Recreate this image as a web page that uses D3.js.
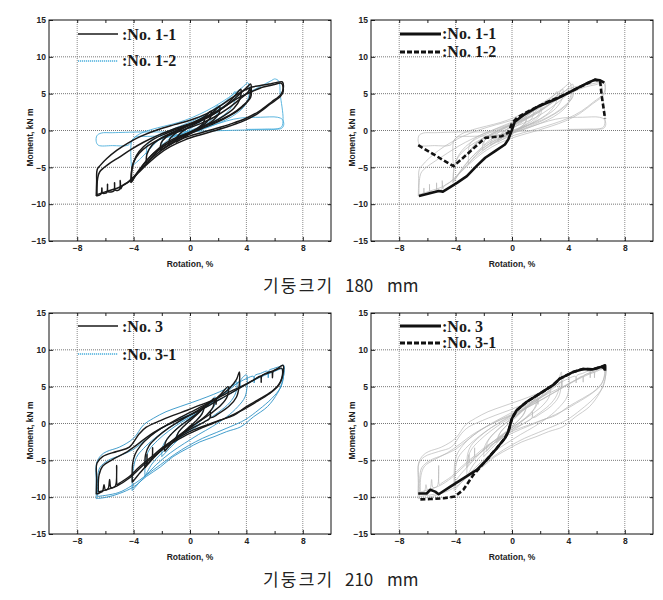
<!DOCTYPE html>
<html><head><meta charset="utf-8">
<script src="https://cdn.jsdelivr.net/npm/d3@7"></script>
<style>
body{margin:0;background:#fff;}
svg{display:block;}
</style></head><body>
<svg id="c" width="663" height="600"></svg>
<script>
// ---------- axis / text data ----------
const ROT_TICKS = [-8, -4, 0, 4, 8];
const ROT_MINOR = [-6, -2, 2, 6];
const MOM_TICKS = [-15, -10, -5, 0, 5, 10, 15];
const X_LABEL = "Rotation, %";
const Y_LABEL = "Moment, kN m";
const CAPTION_WORDS_1 = ["기둥크기", "180", "mm"];
const CAPTION_WORDS_2 = ["기둥크기", "210", "mm"];
const LEGEND_TOP = [":No. 1-1", ":No. 1-2"];
const LEGEND_BOTTOM = [":No. 3", ":No. 3-1"];

// ---------- No. 1-1 hysteresis loops [rotation %, moment kN m] ----------
const no11Loops = [
  [[-1.0,-1.6],[-0.95,-1.0],[-0.7,-0.4],[-0.3,0.2],[0.2,0.7],[0.6,1.1],[1.0,1.6],[0.95,1.0],[0.6,0.4],[0.1,-0.3],[-0.4,-0.9],[-1.0,-1.6]],
  [[-1.5,-2.0],[-1.45,-1.2],[-1.1,-0.5],[-0.6,0.2],[0,0.8],[0.6,1.4],[1.1,2.0],[1.5,2.6],[1.45,1.8],[1.1,1.0],[0.5,0.2],[-0.1,-0.4],[-0.7,-1.0],[-1.1,-1.5],[-1.5,-2.0]],
  [[-2.1,-2.7],[-2.05,-1.7],[-1.7,-0.9],[-1.1,-0.2],[-0.4,0.5],[0.4,1.1],[1.2,1.9],[1.7,2.6],[2.1,3.3],[2.05,2.3],[1.6,1.3],[0.9,0.5],[0.1,-0.3],[-0.7,-1.0],[-1.4,-1.8],[-2.1,-2.7]],
  [[-3.1,-4.6],[-3.05,-3.2],[-2.7,-2.0],[-2.1,-1.1],[-1.3,-0.3],[-0.4,0.4],[0.5,1.1],[1.4,1.9],[2.2,2.9],[2.8,3.9],[3.3,5.0],[3.6,5.6],[3.55,4.3],[3.1,3.0],[2.4,2.0],[1.6,1.1],[0.7,0.4],[-0.2,-0.4],[-1.1,-1.2],[-1.9,-2.2],[-2.6,-3.4],[-3.1,-4.6]],
  [[-4.15,-7.0],[-4.1,-5.0],[-3.8,-3.4],[-3.3,-2.2],[-2.6,-1.2],[-1.7,-0.4],[-0.8,0.3],[0.1,0.9],[1.0,1.6],[1.9,2.5],[2.8,3.7],[3.5,4.9],[4.0,5.8],[4.3,6.3],[4.35,5.5],[4.3,4.5],[3.7,3.3],[3.0,2.3],[2.1,1.4],[1.2,0.7],[0.2,-0.1],[-0.8,-0.8],[-1.8,-1.8],[-2.7,-3.3],[-3.4,-4.9],[-3.8,-6.0],[-4.15,-7.0]],
  [[-4.2,-7.1],[-4.15,-5.6],[-4.0,-4.3],[-3.6,-3.1],[-3.0,-2.1],[-2.2,-1.2],[-1.3,-0.5],[-0.3,0.2],[0.7,0.9],[1.7,1.8],[2.7,3.0],[3.5,4.2],[4.1,5.2],[4.25,5.7],[4.2,4.3],[3.6,3.0],[2.8,2.0],[1.9,1.1],[0.9,0.3],[-0.1,-0.5],[-1.1,-1.3],[-2.1,-2.4],[-3.0,-3.9],[-3.7,-5.6],[-4.2,-7.1]],
  [[-6.65,-8.9],[-6.62,-7.0],[-6.58,-5.3],[-6.35,-4.7],[-5.9,-3.8],[-5.2,-2.7],[-4.4,-1.7],[-3.5,-0.8],[-2.3,0.1],[-1.1,0.8],[0,1.4],[1.2,2.3],[2.2,3.4],[3.1,4.6],[4.0,5.6],[4.4,5.9],[5.0,6.1],[5.6,6.3],[6.1,6.5],[6.55,6.6],[6.62,5.8],[6.45,4.9],[5.8,3.9],[4.9,2.6],[3.9,1.6],[2.9,0.9],[1.9,0.3],[0.8,-0.3],[-0.4,-1.0],[-1.4,-1.9],[-2.1,-2.8],[-2.8,-3.9],[-3.5,-5.3],[-4.0,-6.3],[-4.4,-7.0],[-4.8,-7.5],[-4.9,-7.9],[-4.95,-6.8],[-5.0,-8.0],[-5.3,-8.1],[-5.35,-7.1],[-5.4,-8.2],[-5.8,-8.3],[-5.85,-7.3],[-5.9,-8.4],[-6.2,-8.5],[-6.25,-7.8],[-6.3,-8.6],[-6.65,-8.9]],
  [[-6.6,-8.7],[-6.55,-6.5],[-6.4,-5.6],[-5.8,-4.6],[-5.0,-3.6],[-4.2,-2.6],[-3.3,-1.6],[-2.2,-0.6],[-1.0,0.3],[0.2,1.1],[1.3,2.0],[2.4,3.2],[3.4,4.4],[4.4,5.3],[5.2,5.9],[5.9,6.2],[6.5,6.4],[6.6,5.2],[6.4,4.6],[5.7,3.6],[4.8,2.3],[3.8,1.3],[2.8,0.6],[1.8,0.0],[0.7,-0.6],[-0.4,-1.3],[-1.4,-2.2],[-2.2,-3.2],[-3.0,-4.5],[-3.7,-5.8],[-4.3,-6.9],[-5.0,-7.7],[-5.8,-8.2],[-6.6,-8.7]]
];

// ---------- No. 1-2 hysteresis loops ----------
const no12Loops = [
  [[-1.0,-1.3],[-0.85,-0.6],[-0.45,0.1],[0.1,0.7],[0.6,1.3],[1.0,1.9],[0.95,1.1],[0.55,0.4],[0.0,-0.2],[-0.5,-0.8],[-1.0,-1.3]],
  [[-2.0,-2.0],[-1.9,-1.1],[-1.4,-0.4],[-0.7,0.3],[0,0.9],[0.8,1.7],[1.5,2.6],[2.0,3.4],[1.95,2.4],[1.5,1.4],[0.8,0.6],[0,0],[-0.8,-0.6],[-1.5,-1.2],[-2.0,-2.0]],
  [[-3.1,-3.3],[-3.0,-1.9],[-2.5,-0.9],[-1.7,-0.2],[-0.7,0.6],[0.3,1.4],[1.3,2.4],[2.2,3.5],[2.9,4.6],[3.2,5.3],[3.15,3.9],[2.7,2.6],[2.0,1.6],[1.1,0.7],[0.1,0.0],[-0.9,-0.6],[-1.9,-1.0],[-2.6,-1.9],[-3.1,-3.3]],
  [[-4.15,-4.9],[-4.2,-3.0],[-4.1,-1.3],[-3.6,-0.5],[-2.8,0.1],[-1.8,0.6],[-0.8,1.1],[0.2,1.8],[1.2,2.7],[2.2,3.8],[3.2,5.1],[3.8,6.0],[4.1,6.5],[4.2,5.2],[3.9,3.4],[3.3,2.3],[2.5,1.4],[1.5,0.6],[0.5,-0.1],[-0.5,-0.6],[-1.5,-0.9],[-2.2,-1.3],[-2.9,-2.6],[-3.5,-3.8],[-4.15,-4.9]],
  [[-0.6,-0.6],[0.3,0.6],[1.3,1.9],[2.3,3.2],[3.3,4.3],[4.3,5.3],[5.2,6.2],[5.8,6.8],[6.0,7.0],[6.3,6.7],[6.4,4.9],[6.6,1.6],[6.5,0.5],[6.1,0.2],[4.5,0.1],[2.5,0.0],[0.5,-0.1],[-1.5,-0.2],[-3.5,-0.2],[-5.5,-0.3],[-6.3,-0.35],[-6.6,-0.7],[-6.65,-1.5],[-6.5,-2.0],[-5.5,-2.05],[-4.4,-2.0],[-4.15,-1.5],[-3.9,-0.9],[-3.0,-0.8],[-1.5,-0.7],[0.0,-0.3],[1.3,0.5],[2.6,1.3],[3.6,1.7],[5.0,1.8],[6.2,1.8],[6.55,1.5],[6.65,0.8],[6.5,0.3],[5.5,0.2],[4.0,0.15]]
];

// ---------- envelopes (skeleton curves), 180 mm ----------
const no11Envelope = [[-6.6,-8.9],[-5.9,-8.55],[-5.2,-8.2],[-4.9,-8.3],[-3.9,-7.1],[-3.2,-6.2],[-2.5,-4.8],[-1.9,-3.7],[-1.2,-2.8],[-0.5,-1.9],[-0.26,-1.2],[0,0.1],[0.2,1.2],[0.9,2.2],[1.9,3.3],[3.05,4.2],[4.2,5.3],[5.4,6.5],[5.9,6.9],[6.25,6.8],[6.55,6.5]];
const no12Envelope = [[-6.65,-2.0],[-4.15,-4.85],[-3.2,-3.25],[-1.9,-1.0],[-0.73,-0.77],[-0.26,-0.3],[0,1.0],[0.4,1.8],[1.15,2.6],[2.35,3.75],[3.5,4.65],[4.7,5.8],[5.9,6.9],[6.25,6.7],[6.35,4.9],[6.6,1.6]];

// ---------- No. 3 hysteresis loops ----------
const no3Loops = [
  [[-1.0,-2.2],[-0.85,-1.3],[-0.4,-0.3],[0.2,0.7],[0.7,1.6],[1.0,2.2],[0.85,1.3],[0.4,0.3],[-0.2,-0.7],[-0.6,-1.5],[-1.0,-2.2]],
  [[-1.8,-3.8],[-1.75,-2.6],[-1.4,-1.6],[-0.8,-0.5],[-0.1,0.5],[0.6,1.5],[1.3,2.6],[1.7,3.4],[1.65,2.3],[1.2,1.2],[0.5,0.1],[-0.3,-1.0],[-1.1,-2.3],[-1.8,-3.8]],
  [[-3.2,-6.0],[-3.15,-4.2],[-2.9,-3.0],[-2.3,-1.8],[-1.5,-0.6],[-0.6,0.5],[0.4,1.6],[1.4,2.8],[1.8,3.1],[1.85,2.6],[1.9,3.4],[2.2,4.0],[2.7,5.0],[2.65,3.7],[2.2,2.5],[1.5,1.4],[0.5,0.1],[-0.5,-1.2],[-1.5,-2.7],[-2.4,-4.3],[-3.2,-6.0]],
  [[-4.1,-8.0],[-4.07,-5.5],[-3.9,-4.2],[-3.5,-3.0],[-2.8,-1.7],[-2.0,-0.6],[-1.0,0.5],[0,1.5],[1.0,2.5],[2.0,3.6],[2.8,4.8],[3.3,6.0],[3.5,7.0],[3.48,5.0],[3.3,3.6],[2.8,2.4],[2.0,1.3],[1.5,0.8],[1.45,1.6],[1.4,0.7],[1.0,0.2],[0,-0.8],[-1.0,-2.0],[-2.0,-3.5],[-2.6,-4.5],[-2.65,-3.3],[-2.7,-4.7],[-3.0,-5.4],[-3.05,-4.2],[-3.1,-5.6],[-3.6,-6.8],[-4.1,-8.0]],
  [[-6.5,-9.3],[-6.45,-7.0],[-6.2,-5.8],[-5.5,-4.9],[-4.6,-4.0],[-3.7,-2.8],[-2.8,-1.5],[-1.8,-0.4],[-0.8,0.5],[0.3,1.4],[1.4,2.5],[2.5,3.7],[3.6,4.9],[4.6,6.0],[5.5,6.9],[6.0,7.2],[6.5,7.5],[6.55,6.5],[6.3,5.2],[5.6,4.0],[4.6,2.8],[3.6,1.7],[2.6,0.8],[1.6,0.0],[0.6,-0.8],[-0.4,-1.7],[-1.4,-2.8],[-2.4,-4.2],[-3.4,-5.8],[-4.3,-7.4],[-5.2,-8.5],[-6.5,-9.3]],
  [[-6.65,-9.6],[-6.62,-7.5],[-6.6,-5.4],[-6.2,-4.5],[-5.2,-3.8],[-4.3,-3.2],[-3.6,-1.4],[-3.1,-0.5],[-2.1,0.4],[-1.2,1.1],[-0.2,1.8],[0.7,2.5],[1.7,3.2],[2.6,4.1],[3.6,5.0],[4.5,5.9],[5.0,6.4],[5.05,5.6],[5.1,6.5],[5.5,6.8],[5.8,7.0],[5.85,6.2],[5.9,7.1],[6.2,7.45],[6.6,7.9],[6.62,7.0],[6.4,5.6],[5.9,4.5],[5.0,3.4],[4.0,2.3],[3.1,1.1],[2.1,0.45],[1.2,-0.2],[0.2,-0.9],[-0.7,-1.8],[-1.7,-2.9],[-2.6,-4.3],[-3.6,-5.9],[-4.3,-7.2],[-5.0,-8.1],[-5.15,-8.3],[-5.2,-5.7],[-5.3,-8.5],[-5.6,-8.7],[-5.7,-7.6],[-5.8,-8.8],[-6.0,-9.0],[-6.1,-8.3],[-6.2,-9.2],[-6.4,-9.4],[-6.65,-9.6]]
];

// ---------- No. 3-1 hysteresis loops ----------
const no31Loops = [
  [[-1.1,-2.6],[-0.95,-1.6],[-0.5,-0.5],[0.1,0.6],[0.6,1.5],[1.0,2.3],[0.85,1.4],[0.4,0.3],[-0.2,-0.8],[-0.7,-1.7],[-1.1,-2.6]],
  [[-2.0,-4.5],[-1.95,-3.2],[-1.6,-2.0],[-1.0,-0.8],[-0.3,0.3],[0.5,1.4],[1.2,2.5],[1.8,3.6],[1.75,2.5],[1.3,1.3],[0.6,0.1],[-0.2,-1.1],[-1.0,-2.5],[-2.0,-4.5]],
  [[-3.2,-7.2],[-3.15,-5.0],[-2.9,-3.6],[-2.3,-2.3],[-1.5,-1.0],[-0.6,0.2],[0.4,1.3],[1.4,2.6],[2.3,3.9],[3.0,5.1],[3.3,5.7],[3.25,4.2],[2.8,2.8],[2.0,1.5],[1.0,0.2],[0,-1.0],[-1.0,-2.3],[-2.0,-4.0],[-2.7,-5.5],[-3.2,-7.2]],
  [[-4.1,-9.1],[-4.05,-6.5],[-3.8,-4.6],[-3.3,-3.4],[-2.5,-2.0],[-1.5,-0.6],[-0.5,0.5],[0.5,1.6],[1.5,2.8],[2.5,4.1],[3.3,5.4],[3.5,5.7],[3.55,4.9],[3.6,5.9],[4.0,6.6],[4.05,5.2],[3.9,3.6],[3.4,2.3],[2.6,0.9],[1.6,-0.4],[0.6,-1.5],[-0.4,-2.7],[-1.4,-4.0],[-2.4,-5.6],[-3.3,-7.4],[-4.1,-9.1]],
  [[-6.55,-9.9],[-6.55,-7.5],[-6.4,-6.0],[-5.8,-5.0],[-4.9,-4.3],[-4.0,-3.5],[-3.2,-2.3],[-2.3,-1.0],[-1.3,0.1],[-0.3,1.0],[0.8,1.9],[1.9,3.0],[3.0,4.2],[4.0,5.3],[5.0,6.3],[5.9,7.0],[6.6,7.4],[6.6,6.0],[6.4,4.8],[5.8,3.4],[4.9,1.9],[3.9,0.5],[2.9,-0.4],[1.9,-1.2],[0.9,-2.0],[-0.1,-3.0],[-1.1,-4.2],[-2.1,-5.6],[-3.1,-7.0],[-4.1,-8.4],[-5.1,-9.4],[-6.55,-9.9]],
  [[-6.65,-10.2],[-6.65,-8.0],[-6.63,-5.4],[-6.3,-4.3],[-5.9,-3.8],[-5.0,-3.2],[-4.0,-2.0],[-3.3,-0.2],[-2.6,0.7],[-1.7,1.6],[-0.7,2.3],[0.2,2.9],[1.2,3.6],[2.1,4.3],[3.1,5.2],[4.0,6.1],[4.5,6.4],[4.55,5.5],[4.6,6.5],[5.0,6.8],[5.5,7.1],[5.55,6.2],[5.6,7.2],[5.9,7.45],[6.3,7.7],[6.65,7.9],[6.65,6.6],[6.5,5.4],[6.2,4.1],[5.5,2.3],[4.5,0.9],[3.6,-0.45],[2.6,-1.1],[1.7,-1.8],[0.7,-2.5],[-0.2,-3.4],[-1.2,-4.5],[-2.1,-5.9],[-3.1,-7.2],[-4.0,-8.6],[-5.0,-9.5],[-5.9,-10.0],[-6.65,-10.2]]
];

// ---------- envelopes, 210 mm ----------
const no3Envelope = [[-6.65,-9.5],[-6.05,-9.5],[-5.8,-9.0],[-5.45,-9.25],[-5.2,-9.6],[-4.4,-8.6],[-3.45,-7.45],[-2.5,-6.3],[-1.8,-4.95],[-1.1,-3.4],[-0.5,-2.0],[-0.26,-1.1],[0,0.7],[0.33,1.8],[1.05,2.95],[2.0,4.1],[2.9,5.2],[3.4,6.1],[4.35,7.0],[5.05,7.4],[5.75,7.35],[6.35,7.7],[6.6,7.9],[6.6,7.15]];
const no31Envelope = [[-6.5,-10.3],[-5.8,-10.25],[-4.85,-10.15],[-4.05,-9.9],[-3.45,-9.0],[-2.75,-7.0],[-1.8,-4.95],[-1.3,-3.8],[-1.1,-3.4],[-0.5,-2.0],[-0.26,-1.1],[0,0.7],[0.33,1.8],[1.05,2.95],[2.0,4.1],[2.9,5.2],[3.4,6.1],[4.35,7.0],[5.05,7.4],[5.75,7.35],[6.35,7.7],[6.55,7.5],[6.6,7.0]];

// ---------- drawing ----------
const svg = d3.select('#c');
const W = 282, H = 221;
const x = d3.scaleLinear().domain([-10, 10]).range([0, W]);
const y = d3.scaleLinear().domain([-15, 15]).range([H, 0]);
const smooth = d3.line().x(d => x(d[0])).y(d => y(d[1])).curve(d3.curveCatmullRom.alpha(0.5));
const straight = d3.line().x(d => x(d[0])).y(d => y(d[1]));
const TICK_FONT = '"Liberation Sans", Arial, sans-serif';
const BLACK = '#1a1a1a';

function frame(ox, oy, id) {
  const g = svg.append('g').attr('transform', `translate(${ox},${oy})`);
  svg.append('clipPath').attr('id', id).append('rect').attr('x', ox).attr('y', oy).attr('width', W).attr('height', H);
  g.append('g').selectAll('line').data(ROT_TICKS).join('line')
    .attr('x1', d => x(d)).attr('x2', d => x(d)).attr('y1', 0).attr('y2', H)
    .attr('stroke', '#8c8c8c').attr('stroke-width', 1).attr('stroke-dasharray', '1,1');
  g.append('g').selectAll('line').data(MOM_TICKS.filter(d => Math.abs(d) < 15)).join('line')
    .attr('y1', d => y(d)).attr('y2', d => y(d)).attr('x1', 0).attr('x2', W)
    .attr('stroke', '#777').attr('stroke-width', 1).attr('stroke-dasharray', '1,1');
  const style = sel => {
    sel.select('.domain').remove();
    sel.selectAll('.tick line').attr('stroke', '#222');
    sel.selectAll('text').attr('font-family', TICK_FONT).attr('font-size', '8.5px')
      .attr('font-weight', 'bold').attr('fill', '#222');
  };
  g.append('g').attr('transform', `translate(0,${H})`)
    .call(d3.axisBottom(x).tickValues(ROT_TICKS).tickSizeInner(-4).tickSizeOuter(0).tickPadding(3.5)).call(style);
  g.append('g').attr('transform', `translate(0,${H})`)
    .call(d3.axisBottom(x).tickValues(ROT_MINOR).tickSizeInner(-3).tickSizeOuter(0).tickFormat('')).call(style);
  g.append('g')
    .call(d3.axisTop(x).tickValues(ROT_TICKS.concat(ROT_MINOR)).tickSizeInner(-3).tickSizeOuter(0).tickFormat('')).call(style);
  g.append('g')
    .call(d3.axisLeft(y).tickValues(MOM_TICKS).tickSizeInner(-4).tickSizeOuter(0).tickPadding(3)).call(style);
  g.append('g').attr('transform', `translate(${W},0)`)
    .call(d3.axisRight(y).tickValues(MOM_TICKS).tickSizeInner(-3).tickSizeOuter(0).tickFormat('')).call(style);
  g.append('rect').attr('width', W).attr('height', H).attr('fill', 'none').attr('stroke', '#111').attr('stroke-width', 1);
  g.append('text').attr('x', W / 2).attr('y', H + 26).attr('text-anchor', 'middle')
    .attr('font-family', TICK_FONT).attr('font-size', '8.5px').attr('font-weight', 'bold').attr('fill', '#222').text(X_LABEL);
  g.append('text').attr('transform', `translate(-16.5,${H / 2 + 7}) rotate(-90)`).attr('text-anchor', 'middle')
    .attr('font-family', TICK_FONT).attr('font-size', '8.5px').attr('font-weight', 'bold').attr('fill', '#222').text(Y_LABEL);
  const plot = svg.append('g').attr('clip-path', `url(#${id})`)
    .append('g').attr('transform', `translate(${ox},${oy})`);
  const top = g.append('g');
  return { plot, top };
}

function loops(plot, data, color, width, dash) {
  plot.append('g').selectAll('path').data(data).join('path')
    .attr('d', smooth).attr('fill', 'none').attr('stroke', color)
    .attr('stroke-width', width).attr('stroke-linejoin', 'round')
    .attr('stroke-dasharray', dash || null);
}
function envelope(plot, data, dash) {
  plot.append('path').datum(data).attr('d', straight).attr('fill', 'none').attr('stroke', '#111')
    .attr('stroke-width', 2.6).attr('stroke-linejoin', 'round').attr('stroke-dasharray', dash || null);
}
function legend(g, labels, yLines, yTexts, styles, xText) {
  styles.forEach((s, i) => {
    g.append('line').attr('x1', 29).attr('x2', s.x2).attr('y1', yLines[i]).attr('y2', yLines[i])
      .attr('stroke', s.color).attr('stroke-width', s.width).attr('stroke-dasharray', s.dash || null);
    g.append('text').attr('x', xText).attr('y', yTexts[i])
      .attr('font-family', '"Liberation Serif", "Times New Roman", serif').attr('font-weight', 'bold')
      .attr('font-size', '16px').attr('fill', '#1a1a1a').text(labels[i]);
  });
}

const GRAY = '#b8b8b8';
const CYAN_A = '#4aaedb';
const BLUE_C = '#2f93c6';

const A = frame(49, 20, 'clipA');
loops(A.plot, no12Loops, CYAN_A, 0.9);
loops(A.plot, no11Loops, BLACK, 1.5);
legend(A.top, LEGEND_TOP, [14, 41], [19.5, 45.7],
  [{ color: BLACK, width: 1.4, x2: 69 }, { color: CYAN_A, width: 1.3, dash: '1.2,0.8', x2: 69 }], 73);

const B = frame(371, 20, 'clipB');
loops(B.plot, no11Loops, GRAY, 0.7);
loops(B.plot, no12Loops, GRAY, 0.7);
envelope(B.plot, no11Envelope);
envelope(B.plot, no12Envelope, '5,2.5');
legend(B.top, LEGEND_TOP, [14, 32], [19.3, 37.3],
  [{ color: '#111', width: 3, x2: 70 }, { color: '#111', width: 3, dash: '5,2', x2: 70 }], 71);

const C = frame(49, 313, 'clipC');
loops(C.plot, no31Loops, BLUE_C, 0.9);
loops(C.plot, no3Loops, BLACK, 1.4);
legend(C.top, LEGEND_BOTTOM, [13, 41], [19.3, 47],
  [{ color: BLACK, width: 1.4, x2: 69 }, { color: CYAN_A, width: 1.3, dash: '1.2,0.8', x2: 69 }], 73);

const D = frame(371, 313, 'clipD');
loops(D.plot, no3Loops, GRAY, 0.7);
loops(D.plot, no31Loops, GRAY, 0.7);
envelope(D.plot, no31Envelope, '5,2.5');
envelope(D.plot, no3Envelope);
legend(D.top, LEGEND_BOTTOM, [13, 30], [19, 35.3],
  [{ color: '#111', width: 3, x2: 70 }, { color: '#111', width: 3, dash: '5,2', x2: 70 }], 71);

function caption(words, yBase) {
  const t = svg.append('text').attr('y', yBase)
    .attr('font-family', '"Noto Sans CJK KR", "Noto Sans", sans-serif').attr('font-size', '17px')
    .attr('fill', '#222');
  const xs = [263, 345, 387];
  words.forEach((w, i) => t.append('tspan').attr('x', xs[i])
    .attr('letter-spacing', i === 0 ? '2.2px' : null).text(w));
}
caption(CAPTION_WORDS_1, 292);
caption(CAPTION_WORDS_2, 586);
</script>
</body></html>
